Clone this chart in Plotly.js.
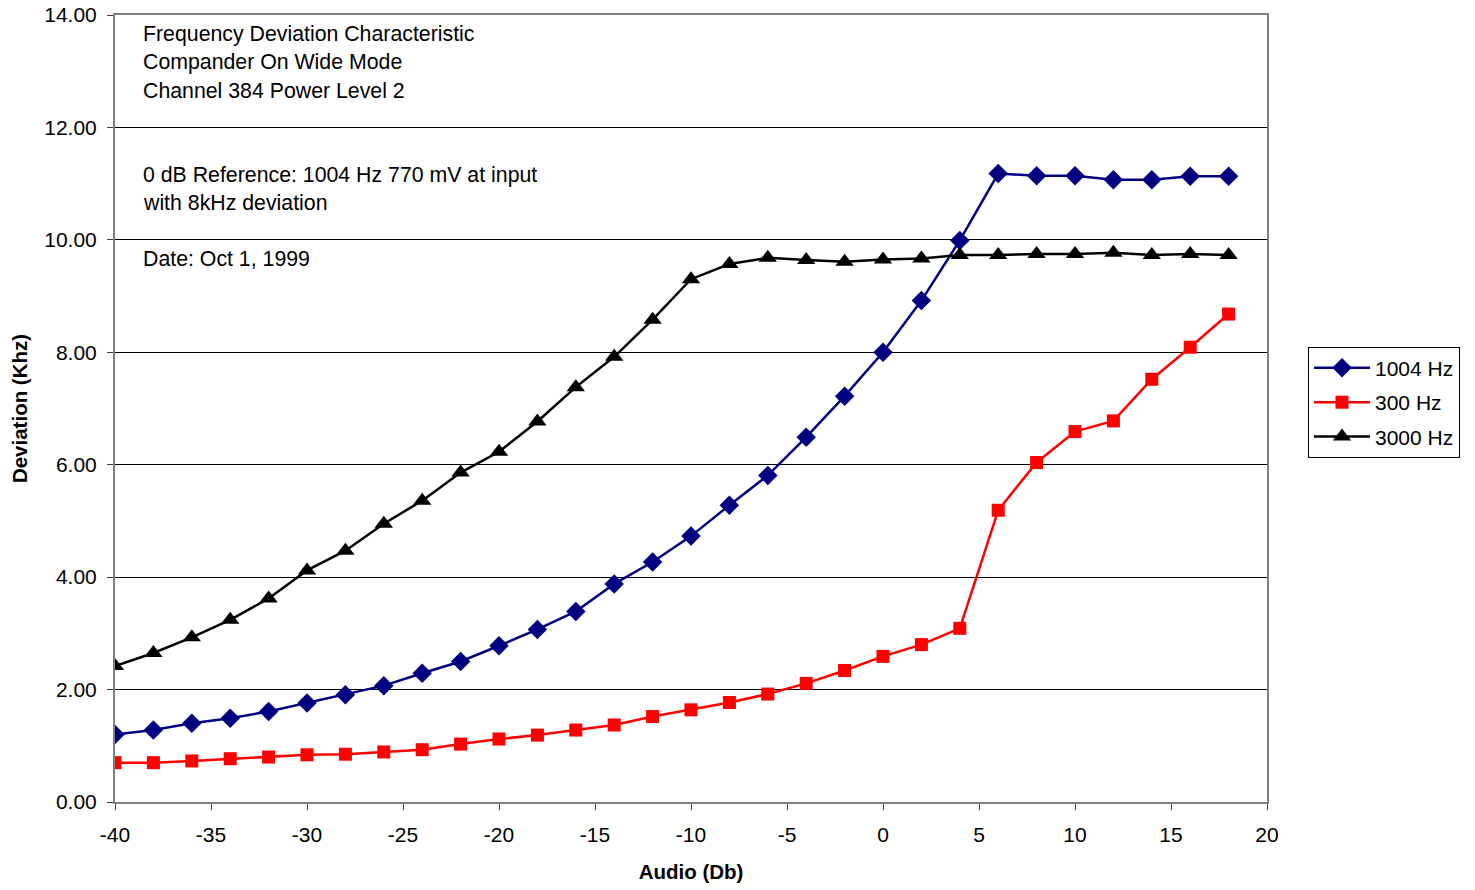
<!DOCTYPE html>
<html>
<head>
<meta charset="utf-8">
<script src="https://cdn.plot.ly/plotly-3.0.1.min.js"></script>
<style>html,body{margin:0;padding:0;background:#fff;}#chart{width:1475px;height:890px;}</style>
</head>
<body>
<div id="chart"></div>
<script>
const audioDb = [-40,-38,-36,-34,-32,-30,-28,-26,-24,-22,-20,-18,-16,-14,-12,-10,-8,-6,-4,-2,0,2,4,6,8,10,12,14,16,18];
const dev1004 = [1.20,1.28,1.40,1.49,1.61,1.76,1.91,2.07,2.29,2.50,2.78,3.07,3.39,3.88,4.27,4.73,5.28,5.81,6.49,7.22,8.00,8.92,9.99,11.18,11.14,11.14,11.07,11.07,11.13,11.13];
const dev300 = [0.70,0.70,0.73,0.77,0.80,0.84,0.85,0.89,0.93,1.03,1.12,1.19,1.28,1.37,1.52,1.64,1.77,1.92,2.11,2.34,2.59,2.80,3.09,5.19,6.04,6.59,6.78,7.52,8.09,8.68];
const dev3000 = [2.42,2.65,2.93,3.24,3.62,4.12,4.47,4.95,5.36,5.86,6.23,6.77,7.38,7.92,8.58,9.30,9.57,9.68,9.64,9.61,9.65,9.67,9.73,9.73,9.75,9.75,9.77,9.73,9.75,9.73];
const seriesNames = ['1004 Hz','300 Hz','3000 Hz'];
const xTickVals = [-40,-35,-30,-25,-20,-15,-10,-5,0,5,10,15,20];
const xTickText = ['-40','-35','-30','-25','-20','-15','-10','-5','0','5','10','15','20'];
const noteLines = [
  'Frequency Deviation Characteristic',
  'Compander On Wide Mode',
  'Channel 384 Power Level 2',
  '0 dB Reference: 1004 Hz 770 mV at input',
  'with 8kHz deviation',
  'Date: Oct 1, 1999'
];
const noteY = [13.67, 13.17, 12.65, 11.16, 10.66, 9.66];

const FONT = '"Liberation Sans", Arial, sans-serif';

const traces = [
  {x: audioDb, y: dev1004, name: seriesNames[0], legendgroup: 'a', mode: 'lines+markers',
   line: {color: '#000080', width: 2.5}, marker: {symbol: 'diamond', size: 15, color: '#000080'}},
  {x: audioDb, y: dev300, name: seriesNames[1], legendgroup: 'b', mode: 'lines+markers',
   line: {color: '#FF0000', width: 2.5}, marker: {symbol: 'square', size: 13, color: '#FF0000'}},
  {x: audioDb, y: dev3000, name: seriesNames[2], legendgroup: 'c', mode: 'lines+markers',
   line: {color: '#000000', width: 2.5}, marker: {symbol: 'triangle-up', size: 16, color: '#000000'}}
];

const annotations = noteLines.map((t, i) => ({
  text: t, xref: 'x', yref: 'y', x: -38.65, y: noteY[i], xanchor: 'left', yanchor: 'middle',
  showarrow: false, font: {family: FONT, size: 21.3, color: '#000'}
}));

const layout = {
  width: 1475, height: 890,
  margin: {l: 115, r: 208, t: 15, b: 88, pad: 0},
  paper_bgcolor: '#fff', plot_bgcolor: '#fff',
  font: {family: FONT, color: '#000', size: 21},
  showlegend: true,
  legend: {x: 1.0356, xanchor: 'left', y: 0.508, yanchor: 'middle', bordercolor: '#000', borderwidth: 1,
           font: {family: FONT, size: 21}, traceorder: 'grouped', tracegroupgap: 4, bgcolor: '#fff',
           itemwidth: 56},
  xaxis: {range: [-40, 20], tickvals: xTickVals, ticktext: xTickText, showgrid: false, zeroline: false,
          showline: true, linecolor: '#808080', linewidth: 2, mirror: true,
          ticks: 'outside', ticklen: 6, tickcolor: '#404040', tickwidth: 1,
          ticklabelstandoff: 7, tickfont: {family: FONT, size: 21},
          title: {text: '<b>Audio (Db)</b>', font: {family: FONT, size: 20.5}, standoff: 19}},
  yaxis: {range: [0, 14], dtick: 2, tick0: 0, tickformat: '.2f', showgrid: true, gridcolor: '#000', gridwidth: 1,
          zeroline: false, showline: true, linecolor: '#808080', linewidth: 2, mirror: true,
          ticks: 'outside', ticklen: 6, tickcolor: '#404040', tickwidth: 1,
          ticklabelstandoff: 6, tickfont: {family: FONT, size: 21},
          title: {text: '<b>Deviation (Khz)</b>', font: {family: FONT, size: 20.5}, standoff: 11}},
  annotations: annotations
};

Plotly.newPlot('chart', traces, layout, {displayModeBar: false, staticPlot: true});
</script>
</body>
</html>
